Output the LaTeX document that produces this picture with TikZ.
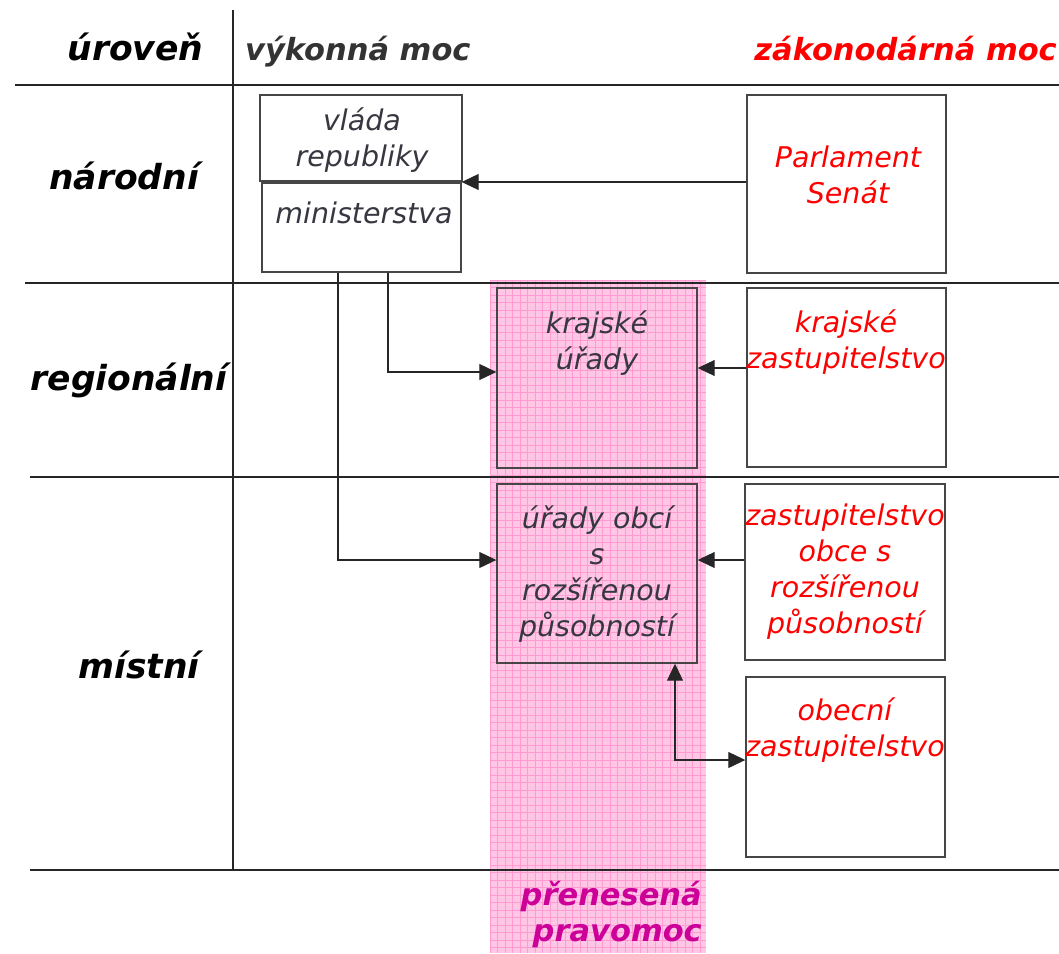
\documentclass[tikz,border=0pt]{standalone}
\usepackage{fontspec}
\setmainfont{DejaVu Sans}
\usetikzlibrary{arrows.meta}
\definecolor{txtgray}{RGB}{55,55,65}
\definecolor{hdrgray}{RGB}{51,51,51}
\definecolor{redtxt}{RGB}{255,0,0}
\definecolor{magtxt}{RGB}{204,0,153}
\definecolor{pinkbg}{RGB}{255,198,230}
\definecolor{pinkgrid}{RGB}{255,155,208}
\definecolor{boxline}{RGB}{70,70,70}
\tikzset{
  rule/.style={line width=1.3pt, draw=black!85},
  box/.style={draw=boxline, line width=1.4pt, inner sep=0pt},
  whitebox/.style={box, fill=white},
  lvl/.style={font=\fontsize{34.5}{40}\selectfont\bfseries\itshape, anchor=base, inner sep=0pt, text=black},
  hdr/.style={font=\fontsize{30.5}{36}\selectfont\bfseries\itshape, inner sep=0pt},
  boxtxt/.style={font=\fontsize{28.5}{36}\selectfont\itshape, anchor=base, inner sep=0pt, text=txtgray},
  redbox/.style={boxtxt, text=redtxt},
  tip/.tip={Triangle[length=17pt,width=16pt]},
  arr/.style={-tip, line width=1.1pt, draw=black!85},
  dblarr/.style={tip-tip, line width=1.1pt, draw=black!85},
  gridline/.style={draw=pinkgrid, line width=0.6pt}
}
\newcommand{\lines}[1]{\begin{tabular}[t]{@{}c@{}}#1\end{tabular}}
\begin{document}
\begin{tikzpicture}[x=1pt,y=-1pt]
\useasboundingbox (0,0) rectangle (1059,953);
% pink column with grid
\fill[pinkbg] (490,280) rectangle (706,953);
\foreach \i in {0,...,28} \draw[gridline] ({490+7.5*\i},280) -- ({490+7.5*\i},953);
\foreach \j in {0,...,89} \draw[gridline] (490,{280+7.5*\j}) -- (706,{280+7.5*\j});
% table rules
\draw[rule] (233,10) -- (233,870);
\draw[rule] (15,85) -- (1059,85);
\draw[rule] (25,283) -- (1059,283);
\draw[rule] (30,477) -- (1059,477);
\draw[rule] (30,870) -- (1059,870);
% headers
\node[lvl] (huroven) at (135.5,60) {úroveň};
\node[hdr, anchor=base west, text=hdrgray] (hvykon) at (245,60) {výkonná moc};
\node[hdr, anchor=base east, text=redtxt] (hzakon) at (1057,60) {zákonodárná moc};
\node[lvl] (lnar) at (124,189) {národní};
\node[lvl] (lreg) at (129,390) {regionální};
\node[lvl] (lmist) at (139,678) {místní};
% boxes
\node[whitebox, minimum width=202, minimum height=86] (vlada) at (361,138) {};
\node[whitebox, minimum width=199, minimum height=89] (mini) at (361.5,227.5) {};
\node[whitebox, minimum width=199, minimum height=178] (parl) at (846.5,184) {};
\node[box, minimum width=200, minimum height=180] (ku) at (597,378) {};
\node[whitebox, minimum width=199, minimum height=179] (kz) at (846.5,377.5) {};
\node[box, minimum width=200, minimum height=179] (uo) at (597,573.5) {};
\node[whitebox, minimum width=200, minimum height=176] (zo) at (845,572) {};
\node[whitebox, minimum width=199, minimum height=180] (oz) at (845.5,767) {};
% box texts
\node[boxtxt] (tvlada) at (362,130) {\lines{vláda\\republiky}};
\node[boxtxt] (tmini) at (364,223) {ministerstva};
\node[redbox] (tparl) at (848,167) {\lines{Parlament\\Senát}};
\node[boxtxt] (tku) at (597,333) {\lines{krajské\\úřady}};
\node[redbox] (tkz) at (846,332) {\lines{krajské\\zastupitelstvo}};
\node[boxtxt] (tuo) at (597,528) {\lines{úřady obcí\\s\\rozšířenou\\působností}};
\node[redbox] (tzo) at (845,525) {\lines{zastupitelstvo\\obce s\\rozšířenou\\působností}};
\node[redbox] (toz) at (845,720) {\lines{obecní\\zastupitelstvo}};
\node[hdr, anchor=base east, text=magtxt] (tpren) at (702,905) {\begin{tabular}[t]{@{}r@{}}přenesená\\pravomoc\end{tabular}};
% connectors
\draw[arr] ([yshift=2]parl.west) -- ([yshift=2]parl.west -| mini.east);
\draw[arr] ([xshift=26.5]mini.south) |- ([yshift=6]ku.west);
\draw[arr] ([xshift=-23.5]mini.south) |- ([yshift=13.5]uo.west);
\draw[arr] ([yshift=9.5]kz.west) -- ([yshift=9.5]kz.west -| ku.east);
\draw[arr] ([yshift=12]zo.west) -- ([yshift=12]zo.west -| uo.east);
\draw[dblarr] ([xshift=78]uo.south) |- ([yshift=7]oz.west);
\end{tikzpicture}
\end{document}
